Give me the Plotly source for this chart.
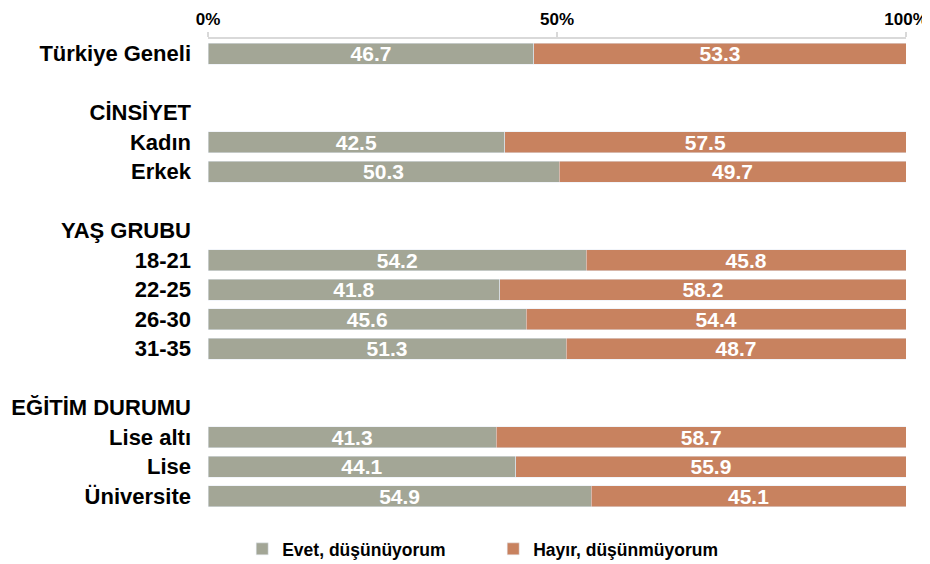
import plotly.graph_objects as go

categories = ["Türkiye Geneli", " ", "CİNSİYET", "Kadın", "Erkek", "  ",
              "YAŞ GRUBU", "18-21", "22-25", "26-30", "31-35", "   ",
              "EĞİTİM DURUMU", "Lise altı", "Lise", "Üniversite"]
evet = [46.7, None, None, 42.5, 50.3, None, None, 54.2, 41.8, 45.6, 51.3, None, None, 41.3, 44.1, 54.9]
hayir = [53.3, None, None, 57.5, 49.7, None, None, 45.8, 58.2, 54.4, 48.7, None, None, 58.7, 55.9, 45.1]
tick_vals = [0, 50, 100]
tick_text = ["0%", "50%", "100%"]

FONT = "Liberation Sans, Arial, sans-serif"

fig = go.Figure()
fig.add_trace(go.Bar(
    y=categories, x=evet, orientation="h", name="Evet, düşünüyorum",
    marker=dict(color="#A3A696"),
    texttemplate="%{x:.1f}", textposition="inside", insidetextanchor="middle",
    constraintext="none",
    textfont=dict(color="white", size=21, family=FONT, weight="bold"),
))
fig.add_trace(go.Bar(
    y=categories, x=hayir, orientation="h", name="Hayır, düşünmüyorum",
    marker=dict(color="#C8825F"),
    texttemplate="%{x:.1f}", textposition="inside", insidetextanchor="middle",
    constraintext="none",
    textfont=dict(color="white", size=21, family=FONT, weight="bold"),
))

fig.update_layout(
    barmode="stack",
    bargap=0.29,
    width=930, height=564,
    margin=dict(l=200, r=32, t=31, b=61, autoexpand=False),
    plot_bgcolor="white", paper_bgcolor="white",
    font=dict(family=FONT, size=18, color="black", weight="bold"),
    showlegend=True,
    legend=dict(orientation="h", x=0.049, xanchor="left", y=-0.0805, yanchor="middle",
                traceorder="normal",
                font=dict(size=17.5, family=FONT, weight="bold", color="black"),
                itemwidth=30, entrywidth=206, entrywidthmode="pixels"),
)
fig.update_xaxes(
    side="top", range=[0, 100], tickvals=tick_vals, ticktext=tick_text,
    showgrid=False, zeroline=False, showline=True, linecolor="#D9D9D9", linewidth=1.5,
    ticks="outside", ticklen=5, tickcolor="#D9D9D9", tickwidth=1.5,
    ticklabelstandoff=0, automargin=False,
    tickfont=dict(size=17, family=FONT, weight="bold", color="black"),
)
fig.update_yaxes(
    autorange="reversed", showgrid=False, zeroline=False, showline=False,
    ticks="", ticklabelstandoff=16, automargin=False,
    tickfont=dict(size=22, family=FONT, weight="bold", color="black"),
)

fig.write_html("out.html")
